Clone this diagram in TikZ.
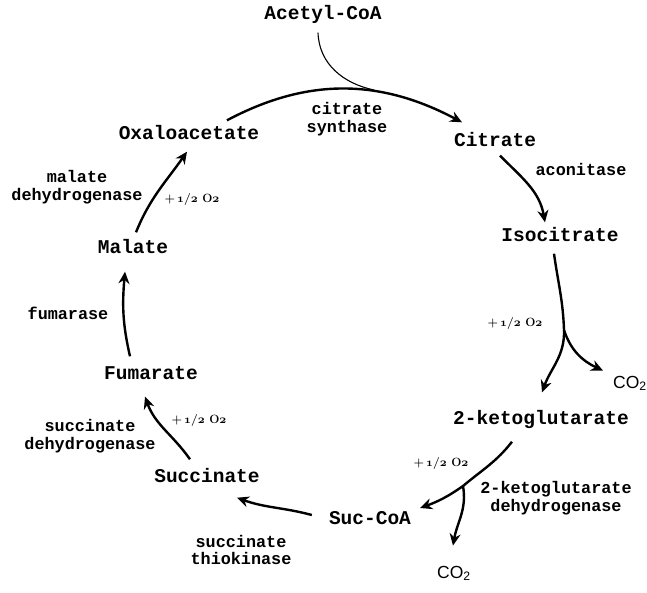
\documentclass[tikz,border=0pt]{standalone}
\usepackage{fontspec}
\usepackage{tikz}
\usetikzlibrary{arrows.meta}
\newfontfamily\courfont{Liberation Mono}
\newfontfamily\cofont{Liberation Sans}
\newcommand\osf[1]{{\fontencoding{OML}\fontfamily{cmm}\fontseries{b}\fontshape{it}\selectfont #1}}
\newcommand\halfoxy{+\,\osf{1}/\osf{2}\ O\osf{2}}

\begin{document}
\begin{tikzpicture}[x=1pt, y=-1pt, >={Stealth[length=12pt,width=11pt,inset=4pt]},
  met/.style={font=\courfont\bfseries\fontsize{19.5}{22}\selectfont, inner sep=1pt, text height=13pt, text depth=4pt},
  enz/.style={font=\courfont\bfseries\fontsize{16.8}{17.5}\selectfont, align=center, inner sep=0pt},
  oxy/.style={font=\bfseries\fontsize{12}{14}\selectfont, inner sep=0pt},
  co/.style={font=\cofont\fontsize{17.5}{20}\selectfont, inner sep=0pt},
  rxn/.style={->, line width=2.4pt}]
  \useasboundingbox (0,0) rectangle (647,592);
  % Metabolites
  \node[met] (acoa) at (323,15) {Acetyl-CoA};
  \node[met] (oxal) at (189,135) {Oxaloacetate};
  \node[met] (citr) at (495,142) {Citrate};
  \node[met] (isoc) at (560,237) {Isocitrate};
  \node[met] (akg) at (541,420) {2-ketoglutarate};
  \node[met] (succoa) at (370,520) {Suc-CoA};
  \node[met] (succ) at (207,478) {Succinate};
  \node[met] (fuma) at (151,375) {Fumarate};
  \node[met] (mala) at (133,249) {Malate};
  \node[co, anchor=base west] (co2a) at (613,388) {CO\textsubscript{2}};
  \node[co, anchor=base west] (co2b) at (437,578) {CO\textsubscript{2}};
  % Enzymes
  \node[enz] (cs) at (347,119) {citrate\\synthase};
  \node[enz] (acon) at (581,169) {aconitase};
  \node[enz] (kgdh) at (556,498) {2-ketoglutarate\\dehydrogenase};
  \node[enz] (stk) at (241,550) {succinate\\thiokinase};
  \node[enz] (sdh) at (90,436) {succinate\\dehydrogenase};
  \node[enz] (fum) at (68,313) {fumarase};
  \node[enz] (mdh) at (77,187) {malate\\dehydrogenase};
  % Oxygen
  \node[oxy] (oxa) at (192,199) {\halfoxy};
  \node[oxy] (oxb) at (515,323) {\halfoxy};
  \node[oxy] (oxc) at (441,463) {\halfoxy};
  \node[oxy] (oxd) at (199,420) {\halfoxy};
  % Cycle
  \draw[rxn] ([shift={(38,-5)}]oxal.north) to[out=28,in=152] ([shift={(-33,-10)}]citr.north);
  \coordinate (join) at (374,90);
  \draw[line width=1.1pt] ([shift={(-5,8)}]acoa.south) to[out=-88,in=168] (join);
  \draw[rxn] ([shift={(5,4)}]citr.south) to[out=-45,in=100] ([shift={(-15,-5)}]isoc.north);
  % Isocitrate branch
  \coordinate (isobr) at (564,330);
  \draw[rxn] ([shift={(-6,7)}]isoc.south) to[out=-82,in=92] (isobr)
    to[out=-88,in=70] ([shift={(1,-18)}]akg.north);
  \draw[rxn] (isobr) to[out=-72,in=155] ([shift={(-10,-5)}]co2a.north west);
  % 2-ketoglutarate branch
  \coordinate (akgbr) at (463,486);
  \draw[rxn] ([shift={(-29,12)}]akg.south) to[out=-128,in=40] (akgbr)
    to[out=-145,in=20] ([shift={(8,-12)}]succoa.east);
  \draw[rxn] (akgbr) to[out=-80,in=80] ([shift={(-1,-20)}]co2b.north);
  \draw[rxn] ([shift={(-16,-5)}]succoa.west) to[out=165,in=-20] ([shift={(30,10)}]succ.south);
  \draw[rxn] ([shift={(-17,-9)}]succ.north) to[out=125,in=-70] ([shift={(-6,12)}]fuma.south);
  \draw[rxn] ([shift={(-21,-9)}]fuma.north) to[out=103,in=-95] ([shift={(-8,13)}]mala.south);
  \draw[rxn] ([shift={(3,-7)}]mala.north) to[out=68,in=-125] ([shift={(-2,7)}]oxal.south);
\end{tikzpicture}
\end{document}
